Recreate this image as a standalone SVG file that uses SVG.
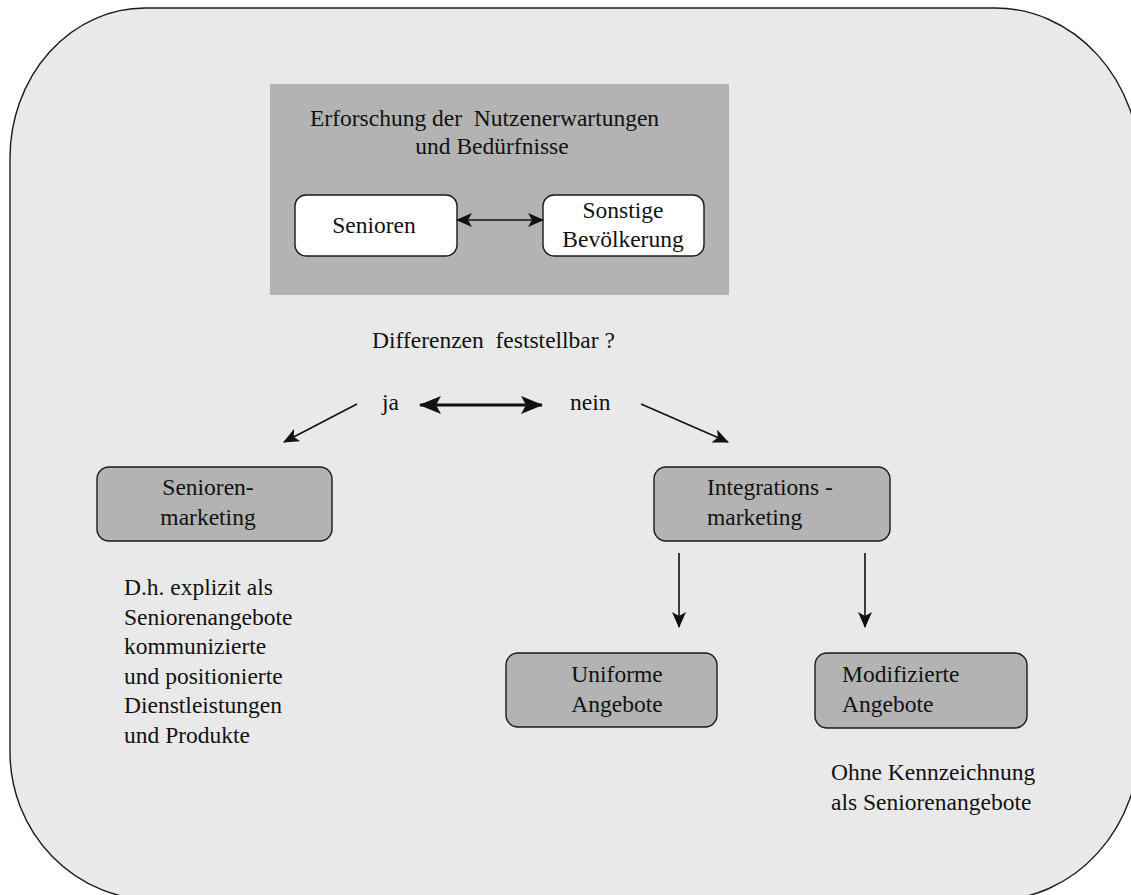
<svg xmlns="http://www.w3.org/2000/svg" width="1131" height="895" viewBox="0 0 1131 895">
<style>
text{font-family:"Liberation Serif","DejaVu Serif","Times New Roman",serif;font-size:23.5px;fill:#111}
.mid{text-anchor:middle}
.box{fill:#b3b3b3;stroke:#1a1a1a;stroke-width:1.4}
.wbox{fill:#fff;stroke:#1a1a1a;stroke-width:1.4}
.ln{stroke:#111;stroke-width:1.6;fill:none}
.thick{stroke:#111;stroke-width:3.2;fill:none}
</style>
<defs>
<marker id="ah" markerUnits="userSpaceOnUse" markerWidth="16" markerHeight="14" refX="15" refY="7" orient="auto-start-reverse" viewBox="0 0 16 14">
<path d="M0,0 L16,7 L0,14 L4,7 z" fill="#111"/>
</marker>
<marker id="ahb" markerUnits="userSpaceOnUse" markerWidth="22" markerHeight="18" refX="21" refY="9" orient="auto-start-reverse" viewBox="0 0 22 18">
<path d="M0,0 L22,9 L0,18 L5,9 z" fill="#111"/>
</marker>
</defs>
<path id="frame" d="M145,8 L995,8 A145,160 0 0 1 1140,168 L1140,740 A145,160 0 0 1 995,900 L155,900 A145,148 0 0 1 10,752 L10,158 A135,150 0 0 1 145,8 Z" fill="#e9e9e9" stroke="#1a1a1a" stroke-width="1.4"/>
<g font-family="Liberation Serif, serif">
<g id="research">
<rect x="270" y="84" width="459" height="211" fill="#b3b3b3"/>
<text x="310" y="126">Erforschung der&#160; Nutzenerwartungen</text>
<text class="mid" x="492" y="154">und Bedürfnisse</text>
</g>
<g id="senioren">
<rect class="wbox" x="295" y="195" width="162" height="61" rx="11"/>
<text class="mid" x="374" y="233">Senioren</text>
</g>
<g id="sonstige">
<rect class="wbox" x="543" y="195" width="161" height="61" rx="11"/>
<text class="mid" x="623" y="218">Sonstige</text>
<text class="mid" x="623" y="247">Bevölkerung</text>
</g>
<g id="question">
<text x="372" y="348">Differenzen&#160; feststellbar ?</text>
<text x="382" y="410">ja</text>
<text x="570" y="410">nein</text>
</g>
<g id="seniorenmarketing">
<rect class="box" x="97" y="467" width="235" height="74" rx="12"/>
<text class="mid" x="208" y="495">Senioren-</text>
<text class="mid" x="208" y="525">marketing</text>
</g>
<g id="senioren-desc">
<text x="124" y="595">D.h. explizit als</text>
<text x="124" y="625">Seniorenangebote</text>
<text x="124" y="654">kommunizierte</text>
<text x="124" y="684">und positionierte</text>
<text x="124" y="713">Dienstleistungen</text>
<text x="124" y="743">und Produkte</text>
</g>
<g id="integrationsmarketing">
<rect class="box" x="654" y="467" width="236" height="74" rx="12"/>
<text x="707" y="495">Integrations -</text>
<text x="707" y="525">marketing</text>
</g>
<g id="uniforme">
<rect class="box" x="506" y="653" width="211" height="74" rx="12"/>
<text class="mid" x="617" y="682">Uniforme</text>
<text class="mid" x="617" y="712">Angebote</text>
</g>
<g id="modifizierte">
<rect class="box" x="815" y="653" width="212" height="75" rx="12"/>
<text x="842" y="682">Modifizierte</text>
<text x="842" y="712">Angebote</text>
</g>
<g id="modifizierte-desc">
<text x="831" y="780">Ohne Kennzeichnung</text>
<text x="831" y="810">als Seniorenangebote</text>
</g>
</g>
<g id="connectors">
<line class="ln" x1="457" y1="220" x2="543" y2="220" marker-start="url(#ah)" marker-end="url(#ah)"/>
<line class="thick" x1="420" y1="405" x2="542" y2="405" marker-start="url(#ahb)" marker-end="url(#ahb)"/>
<line class="ln" x1="357" y1="404" x2="284" y2="442" marker-end="url(#ah)"/>
<line class="ln" x1="641" y1="404" x2="728" y2="442" marker-end="url(#ah)"/>
<line class="ln" x1="679" y1="553" x2="679" y2="627" marker-end="url(#ah)"/>
<line class="ln" x1="865" y1="553" x2="865" y2="627" marker-end="url(#ah)"/>
</g>
</svg>
